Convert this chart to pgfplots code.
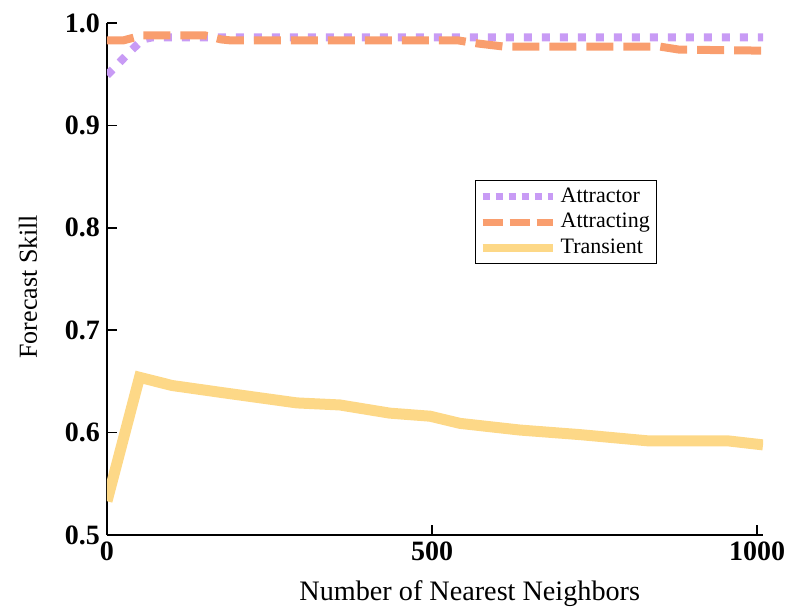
\documentclass[border=0pt]{standalone}
\usepackage{pgfplots}
\pgfplotsset{compat=1.18}
\usepackage{fontspec}
\setmainfont{Liberation Serif}
\definecolor{cpurple}{RGB}{200,155,245}
\definecolor{corange}{RGB}{249,158,110}
\definecolor{cyellow}{RGB}{253,216,135}
\begin{document}
\begin{tikzpicture}
\begin{axis}[
  scale only axis,
  width=328pt, height=256pt,
  xmin=0, xmax=1009, ymin=0.5, ymax=1.0,
  axis x line*=bottom, axis y line*=left,
  axis line style={line width=0.8pt, -},
  tick align=inside,
  major tick length=5pt,
  tick style={line width=0.8pt, black},
  xtick={0,500,1000}, ytick={0.5,0.6,0.7,0.8,0.9,1.0},
  /pgf/number format/assume math mode=true,
  yticklabel style={/pgf/number format/fixed, /pgf/number format/fixed zerofill, /pgf/number format/precision=1},
  xticklabel style={/pgf/number format/set thousands separator={}},
  ticklabel style={font=\fontsize{14}{16}\selectfont\bfseries},
  xlabel={Number of Nearest Neighbors},
  ylabel={Forecast Skill},
  xlabel style={font=\fontsize{14.1}{16}\selectfont, at={([yshift=-29.5pt]axis description cs:0.553,0)}, anchor=center},
  ylabel style={font=\fontsize{13}{16}\selectfont, at={([xshift=-39.5pt]axis description cs:0,0.485)}, anchor=center, rotate=0},
  legend style={at={(0.561,0.693)}, anchor=north west, draw=black, line width=0.6pt,
    font=\fontsize{11}{13}\selectfont, inner sep=1.5pt, row sep=0pt},
  legend cell align=left,
]
\addplot[cpurple, line width=4pt, dash pattern=on 4pt off 5pt,
  legend image code/.code={\draw[cpurple, line width=3.5pt, dash pattern=on 3.5pt off 3pt] (0pt,0pt) -- (35pt,0pt);}]
  table {
0 0.949
20 0.962
37 0.973
55 0.984
70 0.986
1009 0.986
};
\addlegendentry{Attractor}
\addplot[corange, line width=4pt, dash pattern=on 13.5pt off 5pt,
  legend image code/.code={\draw[corange, line width=3.5pt, dash pattern=on 10pt off 3.5pt] (0pt,0pt) -- (35pt,0pt);}]
  table {
0 0.983
25 0.983
55 0.988
150 0.988
175 0.984
190 0.983
540 0.983
570 0.980
610 0.977
850 0.977
880 0.974
1009 0.973
};
\addlegendentry{Attracting}
\addplot[cyellow, line width=5.5pt,
  legend image code/.code={\draw[cyellow, line width=4pt] (0pt,0pt) -- (35pt,0pt);}]
  table {
0 0.533
50 0.654
100 0.646
178 0.639
292 0.629
358 0.627
435 0.619
497 0.616
543 0.609
635 0.6025
728 0.598
831 0.592
954 0.592
1009 0.588
};
\addlegendentry{Transient}
\end{axis}
\pgfresetboundingbox
\path[use as bounding box] (-53.5pt,-37pt) rectangle (342pt,267.5pt);
\end{tikzpicture}
\end{document}
